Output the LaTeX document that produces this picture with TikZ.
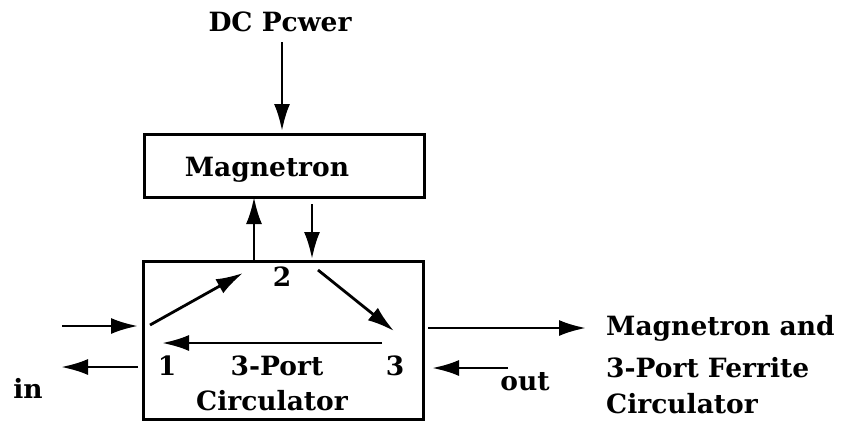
\documentclass[tikz,border=0pt]{standalone}
\usepackage{fontspec}
\setmainfont{DejaVu Serif}
\usetikzlibrary{arrows.meta}
\begin{document}
\begin{tikzpicture}[x=1pt,y=-1pt,
  box/.style={draw,line width=3pt},
  arr/.style={line width=2.8pt,-{Latex[length=27pt,width=16pt]}},
  lbl/.style={font=\fontsize{26.5}{30}\selectfont\bfseries,inner sep=0pt}]
\useasboundingbox (0,0) rectangle (848,424);
\node[box,minimum width=280pt,minimum height=63pt,inner sep=0pt] (mag) at (284,166) {};
\node[lbl] (magt) at (267,170) {Magnetron};
\node[box,minimum width=280pt,minimum height=158pt,inner sep=0pt] (circ) at (283,340) {};
\node[lbl] (dc) at (280,22) {DC Pcwer};
\coordinate (dcs) at (282,42);
\coordinate (dct) at (282,131);
\draw[arr] (dcs) -- (dct);
\coordinate (ua) at (254,262);
\coordinate (ub) at (254,197);
\draw[arr] (ua) -- (ub);
\coordinate (da) at (312,204);
\coordinate (db) at (312,259);
\draw[arr] (da) -- (db);
\node[lbl] (p2) at (282,277) {2};
\node[lbl] (p1) at (167,366) {1};
\node[lbl] (p3) at (395,366) {3};
\node[lbl] (port) at (277,366) {3-Port};
\node[lbl] (circt) at (272,401) {Circulator};
\coordinate (a1) at (150,325);
\coordinate (a2) at (243,273);
\draw[arr] (a1) -- (a2);
\coordinate (b1) at (318,270);
\coordinate (b2) at (394,331);
\draw[arr] (b1) -- (b2);
\coordinate (c1) at (382,343);
\coordinate (c2) at (162,343);
\draw[arr] (c1) -- (c2);
\coordinate (ina) at (62,326);
\coordinate (inb) at (138,326);
\draw[arr] (ina) -- (inb);
\coordinate (oua) at (138,367);
\coordinate (oub) at (61,367);
\draw[arr] (oua) -- (oub);
\node[lbl] (in) at (28,388) {in};
\coordinate (ra) at (428,328);
\coordinate (rb) at (586,328);
\draw[arr] (ra) -- (rb);
\coordinate (sa) at (508,368);
\coordinate (sb) at (432,368);
\draw[arr] (sa) -- (sb);
\node[lbl] (out) at (525,382) {out};
\node[lbl,anchor=west] (r1) at (606,328) {Magnetron and};
\node[lbl,anchor=west] (r2) at (606,368) {3-Port Ferrite};
\node[lbl,anchor=west] (r3) at (606,404) {Circulator};
\end{tikzpicture}
\end{document}
